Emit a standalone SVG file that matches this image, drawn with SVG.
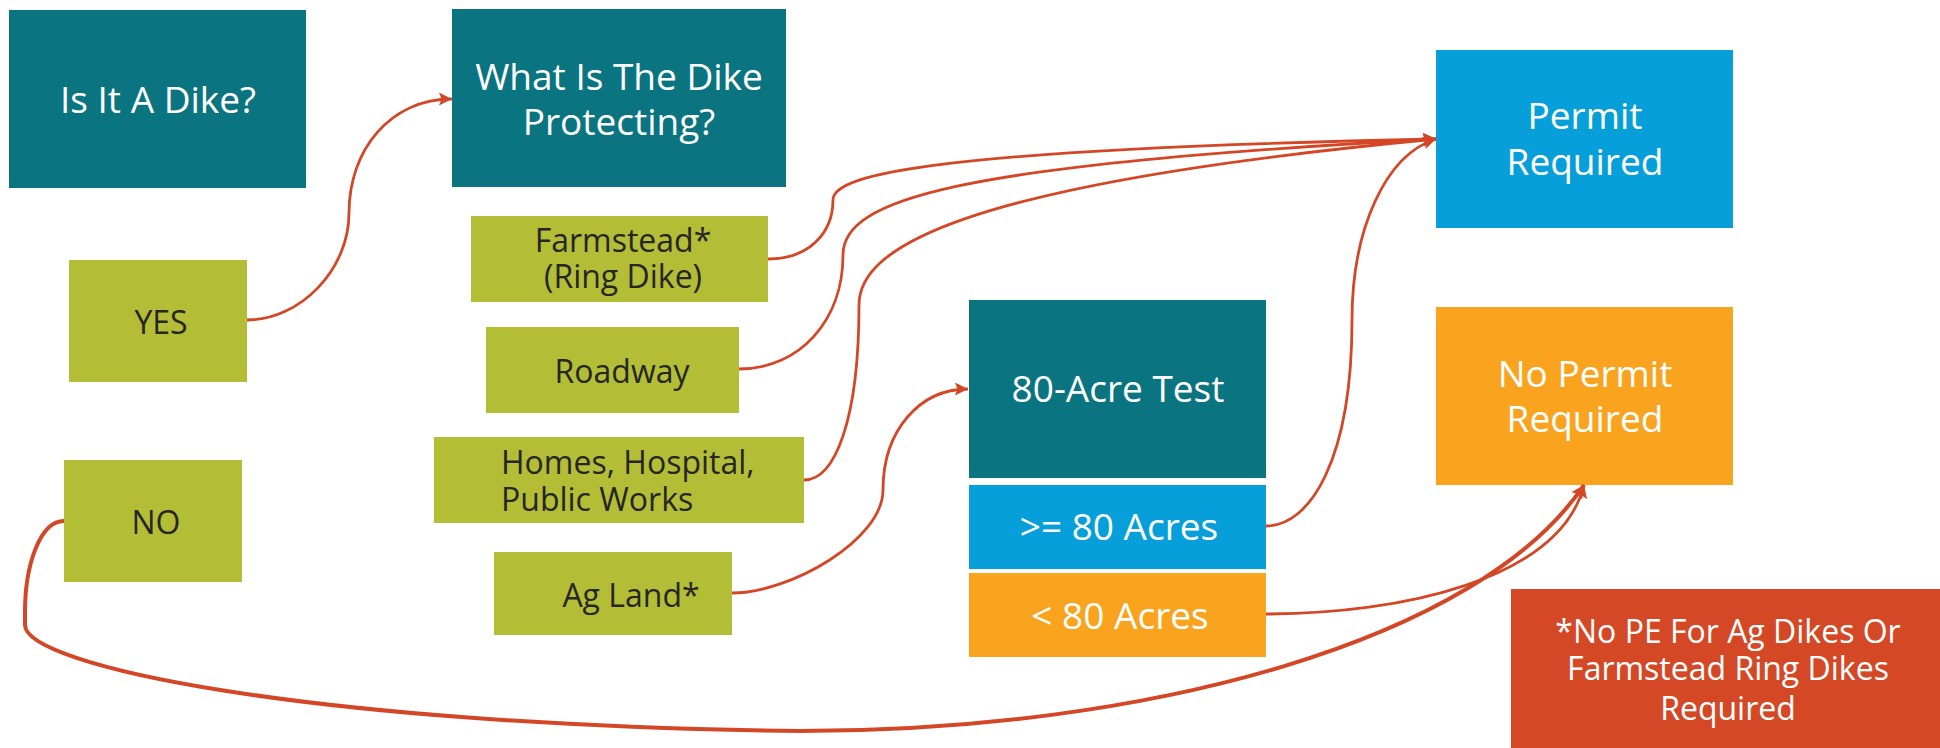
<svg xmlns="http://www.w3.org/2000/svg" width="1940" height="748" viewBox="0 0 1940 748">
<style>
.teal{fill:#0A7480}
.olive{fill:#B3BD35}
.blue{fill:#069FDA}
.orange{fill:#F9A31F}
.red{fill:#D54826}
.tw{font-family:"Open Sans","Noto Sans","Liberation Sans",sans-serif;fill:#FFFFFF;font-size:37px;text-anchor:middle}
.td{font-family:"Open Sans","Noto Sans","Liberation Sans",sans-serif;fill:#262626;font-size:32px;text-anchor:middle}
.tn{font-family:"Open Sans","Noto Sans","Liberation Sans",sans-serif;fill:#FFFFFF;font-size:32px;text-anchor:middle}
.c{fill:none;stroke:#D44726;stroke-width:2.8}
.c4{fill:none;stroke:#D44726;stroke-width:4}
</style>
<defs>
<marker id="arr" markerUnits="userSpaceOnUse" markerWidth="14" markerHeight="14" refX="13" refY="7" orient="auto">
<path d="M0,0.5 L13,7 L0,13.5 L2.5,7 z" fill="#D44726"/>
</marker>
</defs>
<rect width="1940" height="748" fill="#FFFFFF"/>
<g id="n-dike"><rect class="teal" x="9" y="10" width="297" height="178"/><text class="tw" x="158" y="113">Is It A Dike?</text></g>
<g id="n-protect"><rect class="teal" x="452" y="9" width="334" height="178"/><text class="tw" x="619" y="90">What Is The Dike</text><text class="tw" x="619" y="135">Protecting?</text></g>
<g id="n-yes"><rect class="olive" x="69" y="260" width="178" height="122"/><text class="td" x="161" y="334">YES</text></g>
<g id="n-no"><rect class="olive" x="64" y="460" width="178" height="122"/><text class="td" x="156" y="534">NO</text></g>
<g id="n-farm"><rect class="olive" x="471" y="216" width="297" height="86"/><text class="td" x="623" y="252">Farmstead*</text><text class="td" x="623" y="288">(Ring Dike)</text></g>
<g id="n-road"><rect class="olive" x="486" y="327" width="253" height="86"/><text class="td" x="622" y="383">Roadway</text></g>
<g id="n-homes"><rect class="olive" x="434" y="437" width="370" height="86"/><text class="td" x="501" y="474" style="text-anchor:start">Homes, Hospital,</text><text class="td" x="501" y="510.5" style="text-anchor:start">Public Works</text></g>
<g id="n-ag"><rect class="olive" x="494" y="552" width="238" height="83"/><text class="td" x="631" y="606.5">Ag Land*</text></g>
<g id="n-test"><rect class="teal" x="969" y="300" width="297" height="178"/><text class="tw" x="1118" y="402">80-Acre Test</text></g>
<g id="n-ge80"><rect class="blue" x="969" y="485" width="297" height="84"/><text class="tw" x="1119" y="540">&gt;= 80 Acres</text></g>
<g id="n-lt80"><rect class="orange" x="969" y="573" width="297" height="84"/><text class="tw" x="1120" y="629">&lt; 80 Acres</text></g>
<g id="n-permit"><rect class="blue" x="1436" y="50" width="297" height="178"/><text class="tw" x="1585" y="129">Permit</text><text class="tw" x="1585" y="175">Required</text></g>
<g id="n-nopermit"><rect class="orange" x="1436" y="307" width="297" height="178"/><text class="tw" x="1585" y="387">No Permit</text><text class="tw" x="1585" y="432">Required</text></g>
<g id="n-note"><rect class="red" x="1511" y="589" width="429" height="159"/><text class="tn" x="1728" y="643">*No PE For Ag Dikes Or</text><text class="tn" x="1728" y="680">Farmstead Ring Dikes</text><text class="tn" x="1728" y="720">Required</text></g>
<g id="connectors">
<path class="c" d="M247,320 C300,320 349,270 349,213 C349,150 390,99 452,99" marker-end="url(#arr)"/>
<path class="c" d="M768,259 C810,259 833,232 833,200 C833,178 900,150 1436,139" marker-end="url(#arr)"/>
<path class="c" d="M739,369 C800,369 843,320 843,255 C843,200 950,165 1436,139" marker-end="url(#arr)"/>
<path class="c" d="M804,480 C835,480 859,420 859,305 C859,250 950,185 1436,139" marker-end="url(#arr)"/>
<path class="c" d="M732,593 C790,593 883,540 883,490 C883,430 920,389 968,389" marker-end="url(#arr)"/>
<path class="c" d="M1266,526 C1310,526 1352,460 1352,320 C1352,230 1385,155 1436,139" marker-end="url(#arr)"/>
<path class="c" d="M1266,614 C1400,614 1560,580 1584,485" marker-end="url(#arr)"/>
<path class="c4" d="M64,521 C40,521 25,565 25,612 L25,625 C25,665 300,725 800,731 C1150,731 1480,640 1584,485" marker-end="url(#arr)"/>
</g>
</svg>
